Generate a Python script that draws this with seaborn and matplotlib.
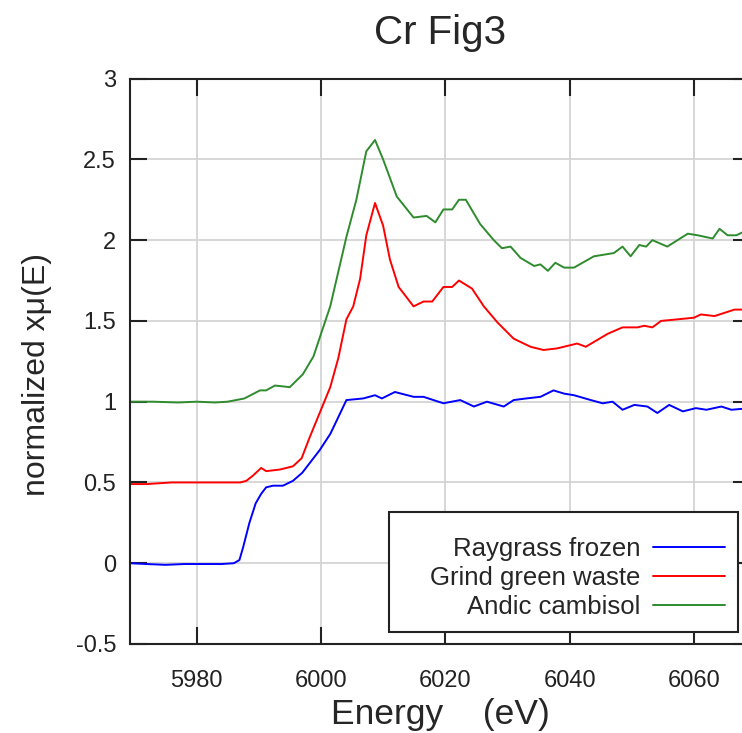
import matplotlib

matplotlib.use("Agg")

import matplotlib.pyplot as plt
import pandas as pd
import seaborn as sns
from matplotlib.patches import Rectangle

# Raygrass frozen
blue_e = [5969.3, 5972, 5975, 5978, 5981, 5984, 5986, 5986.9, 5987.5, 5988.5,
          5989.5, 5990.4, 5991.2, 5992.3, 5993.9, 5995.5, 5997, 5998.2, 5999.8,
          6001.5, 6002.5, 6004.1, 6006.8, 6008.7, 6009.8, 6011.9, 6014.9,
          6016.5, 6019.7, 6022.4, 6024.6, 6026.7, 6029.4, 6031.0, 6033, 6035.3,
          6037.4, 6039.1, 6040.7, 6043.4, 6045.3, 6046.9, 6048.5, 6050.4,
          6052.5, 6054.1, 6056.0, 6058.2, 6060.3, 6062, 6064.4, 6066, 6069]
blue_v = [0.0, -0.005, -0.01, -0.005, -0.005, -0.005, 0.0, 0.02, 0.10, 0.25,
          0.37, 0.43, 0.47, 0.48, 0.48, 0.51, 0.56, 0.62, 0.70,
          0.80, 0.88, 1.01, 1.02, 1.04, 1.02, 1.06, 1.03,
          1.03, 0.99, 1.01, 0.97, 1.00, 0.97, 1.01, 1.02, 1.03,
          1.07, 1.05, 1.04, 1.01, 0.99, 1.00, 0.95, 0.98,
          0.97, 0.93, 0.98, 0.94, 0.96, 0.95, 0.97, 0.95, 0.96]

# Grind green waste
red_e = [5969.3, 5972, 5976, 5980, 5984, 5987, 5988, 5989, 5990.4, 5991.2,
         5993.4, 5995.5, 5996.9, 5998.2, 5999.8, 6001.5, 6002.8, 6004.1,
         6005.2, 6006.3, 6007.3, 6008.7, 6010.0, 6011.1, 6012.5, 6014.9,
         6016.5, 6017.9, 6019.7, 6021.1, 6022.2, 6024.3, 6026.2, 6028.4,
         6031.0, 6033.7, 6035.8, 6038.0, 6041.2, 6042.6, 6046.1, 6048.5,
         6050.9, 6052.0, 6053.3, 6054.7, 6057.4, 6060.0, 6061.1, 6063.3,
         6066.5, 6069]
red_v = [0.49, 0.49, 0.50, 0.50, 0.50, 0.50, 0.51, 0.54, 0.59, 0.57,
         0.58, 0.60, 0.65, 0.78, 0.93, 1.09, 1.27, 1.51,
         1.59, 1.76, 2.03, 2.23, 2.09, 1.88, 1.71, 1.59,
         1.62, 1.62, 1.71, 1.71, 1.75, 1.70, 1.59, 1.49,
         1.39, 1.34, 1.32, 1.33, 1.36, 1.34, 1.42, 1.46,
         1.46, 1.47, 1.46, 1.50, 1.51, 1.52, 1.54, 1.53,
         1.57, 1.57]

# Andic cambisol
green_e = [5969.3, 5973, 5977, 5980, 5983, 5985, 5987.7, 5990.2, 5991.2,
           5992.6, 5995.0, 5997.1, 5998.8, 6000.1, 6001.5, 6004.1, 6005.7,
           6007.3, 6008.7, 6010.0, 6012.2, 6014.9, 6017.0, 6018.4, 6019.7,
           6021.1, 6022.2, 6023.3, 6025.6, 6027.8, 6029.1, 6030.5, 6032.1,
           6034.3, 6035.3, 6036.5, 6037.7, 6039.1, 6040.7, 6043.9, 6047.1,
           6048.5, 6049.8, 6051.2, 6052.3, 6053.3, 6055.7, 6059.0, 6060.6,
           6063.0, 6064.1, 6065.4, 6066.8, 6069]
green_v = [1.0, 1.0, 0.995, 1.0, 0.995, 1.0, 1.02, 1.07, 1.07,
           1.10, 1.09, 1.17, 1.28, 1.43, 1.59, 2.02, 2.25,
           2.55, 2.62, 2.50, 2.27, 2.14, 2.15, 2.11, 2.19,
           2.19, 2.25, 2.25, 2.10, 2.00, 1.95, 1.96, 1.89,
           1.84, 1.85, 1.81, 1.86, 1.83, 1.83, 1.90, 1.92,
           1.96, 1.90, 1.97, 1.96, 2.00, 1.96, 2.04, 2.03,
           2.01, 2.07, 2.03, 2.03, 2.07]

labels = ["Raygrass frozen", "Grind green waste", "Andic cambisol"]
colors = ["#0000ff", "#ff0000", "#2e8b2e"]

df = pd.concat(
    [
        pd.DataFrame({"energy": blue_e, "mu": blue_v, "sample": labels[0]}),
        pd.DataFrame({"energy": red_e, "mu": red_v, "sample": labels[1]}),
        pd.DataFrame({"energy": green_e, "mu": green_v, "sample": labels[2]}),
    ],
    ignore_index=True,
)

sns.set_style("ticks")
plt.rcParams["font.family"] = ["Liberation Sans", "DejaVu Sans"]

fig = plt.figure(figsize=(7.42, 7.33), dpi=100)
ax = fig.add_axes([130 / 742, 1 - 644 / 733, 620 / 742, (644 - 78.6) / 733])

sns.lineplot(
    data=df, x="energy", y="mu", hue="sample", hue_order=labels,
    palette=colors, estimator=None, sort=False, linewidth=1.4,
    legend=False, ax=ax,
)

ax.set_xlim(5969.3, 6069)
ax.set_ylim(-0.5, 3)
ax.set_xticks([5980, 6000, 6020, 6040, 6060])
ax.set_yticks([-0.5, 0, 0.5, 1, 1.5, 2, 2.5, 3])
ax.set_yticklabels(["-0.5", "0", "0.5", "1", "1.5", "2", "2.5", "3"])
ax.grid(True, color="#d4d4d4", linewidth=1.3)
ax.set_axisbelow(True)
for s in ax.spines.values():
    s.set_color("#222222")
    s.set_linewidth(1.5)
ax.tick_params(axis="both", direction="in", length=12, width=1.5,
               top=True, right=True, labelsize=17, colors="#222222")
ax.tick_params(axis="x", pad=19)
ax.tick_params(axis="y", pad=10)

ax.set_title("Cr Fig3", fontsize=29, pad=25)
ax.set_xlabel("Energy    (eV)", fontsize=25.5, labelpad=4)
ax.set_ylabel("normalized x\u03bc(E)", fontsize=23)
ax.yaxis.set_label_coords(-0.126, 0.476)

# legend box drawn separately so it is wider than its contents
ax.add_patch(Rectangle((0.418, 0.021), 0.563, 0.213, transform=ax.transAxes,
                       facecolor="white", edgecolor="#222222", linewidth=1.5,
                       zorder=4))
leg = ax.legend(ax.lines[:3], labels, loc="lower right",
                bbox_to_anchor=(0.981, 0.021), frameon=False, fontsize=18.5,
                markerfirst=False, handlelength=2.8, handletextpad=0.5,
                labelspacing=0.2, borderpad=0.5, borderaxespad=0)
leg.set_zorder(5)

fig.savefig("out.png", dpi=100)
